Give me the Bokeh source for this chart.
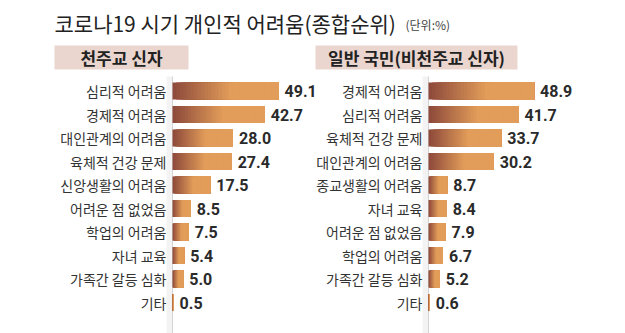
from bokeh.plotting import figure
from bokeh.models import Range1d, ColumnDataSource
from bokeh.core.properties import value
from bokeh.embed import file_html
from bokeh.resources import INLINE

title_text = "코로나19 시기 개인적 어려움(종합순위)"
unit_text = "(단위:%)"

left_header = "천주교 신자"
left_labels = ["심리적 어려움", "경제적 어려움", "대인관계의 어려움", "육체적 건강 문제", "신앙생활의 어려움",
               "어려운 점 없었음", "학업의 어려움", "자녀 교육", "가족간 갈등 심화", "기타"]
left_values = [49.1, 42.7, 28.0, 27.4, 17.5, 8.5, 7.5, 5.4, 5.0, 0.5]

right_header = "일반 국민(비천주교 신자)"
right_labels = ["경제적 어려움", "심리적 어려움", "육체적 건강 문제", "대인관계의 어려움", "종교생활의 어려움",
                "자녀 교육", "어려운 점 없었음", "학업의 어려움", "가족간 갈등 심화", "기타"]
right_values = [48.9, 41.7, 33.7, 30.2, 8.7, 8.4, 7.9, 6.7, 5.2, 0.6]

W, H = 625, 333
K = 2.16          # px per percent
ROW = 23.5        # px per row
ROW0 = 90.5       # px of first row center
LBASE, RBASE = 172, 428

FONT = "Noto Sans CJK KR"
NUMFONT = "Roboto"

p = figure(width=W, height=H, x_range=Range1d(0, W), y_range=Range1d(H, 0),
           x_axis_type=None, y_axis_type=None, toolbar_location=None,
           output_backend="svg", min_border=0)
p.outline_line_color = None
p.grid.visible = False
p.background_fill_color = "white"
p.border_fill_color = "white"

p.extra_y_ranges = {"rows": Range1d(start=(H - ROW0) / ROW, end=-ROW0 / ROW)}
p.extra_x_ranges = {
    "L": Range1d(start=-LBASE / K, end=(W - LBASE) / K),
    "R": Range1d(start=-RBASE / K, end=(W - RBASE) / K),
}

# title
p.text(x=[54], y=[22], text=[title_text], text_font=value(FONT), text_font_size="21px",
       text_color="#222222", text_baseline="middle", text_align="left")
p.text(x=[405], y=[24], text=[unit_text], text_font=value(FONT), text_font_size="12px",
       text_color="#444444", text_baseline="middle", text_align="left")

# header boxes
p.quad(left=[54, 315], right=[188, 517], top=[45, 45], bottom=[69, 69],
       fill_color="#ead6cf", line_color=None)
p.text(x=[121, 416], y=[57, 57], text=[left_header, right_header], text_font=value(FONT),
       text_font_size="17px", text_color="#222222", text_baseline="middle", text_align="center",
       text_font_style="bold")

# axis lines with a soft shadow
for bx in (LBASE, RBASE):
    p.quad(left=[bx - 6], right=[bx], top=[76], bottom=[H], fill_color="#f3f3f3", line_color=None)
    p.segment(x0=[bx], y0=[76], x1=[bx], y1=[H], line_color="#d4d4d4", line_width=1)

DARK = (0x8c, 0x48, 0x3a)
ORANGE = (0xe2, 0x9d, 0x5a)
N = 30
SPAN = 0.55


def mix(t):
    u = min(t / SPAN, 1.0)
    c = tuple(int(round(DARK[i] + (ORANGE[i] - DARK[i]) * u)) for i in range(3))
    return "#%02x%02x%02x" % c


def panel(labels, vals, rng):
    segs = dict(l=[], r=[], y=[], c=[])
    for i, v in enumerate(vals):
        for j in range(N):
            segs["l"].append(v * j / N)
            segs["r"].append(v)
            segs["y"].append(i)
            segs["c"].append(mix((j + 0.5) / N))
    src = ColumnDataSource(dict(left=segs["l"], right=segs["r"],
                                top=[y - 0.36 for y in segs["y"]],
                                bottom=[y + 0.36 for y in segs["y"]], color=segs["c"]))
    p.quad(left="left", right="right", top="top", bottom="bottom", fill_color="color",
           line_color=None, source=src, x_range_name=rng, y_range_name="rows")
    rows = list(range(len(vals)))
    p.text(x=[0] * len(vals), y=rows, text=labels, x_offset=-6, text_align="right",
           text_baseline="middle", text_font=value(FONT), text_font_size="14px",
           text_color="#333333", x_range_name=rng, y_range_name="rows")
    p.text(x=vals, y=rows, text=["%.1f" % v for v in vals], x_offset=6, text_align="left",
           text_baseline="middle", text_font=value(NUMFONT), text_font_size="16px",
           text_font_style="bold", text_color="#2a2a2a", x_range_name=rng, y_range_name="rows")


panel(left_labels, left_values, "L")
panel(right_labels, right_values, "R")

open("out.html", "w").write(file_html(p, INLINE))
